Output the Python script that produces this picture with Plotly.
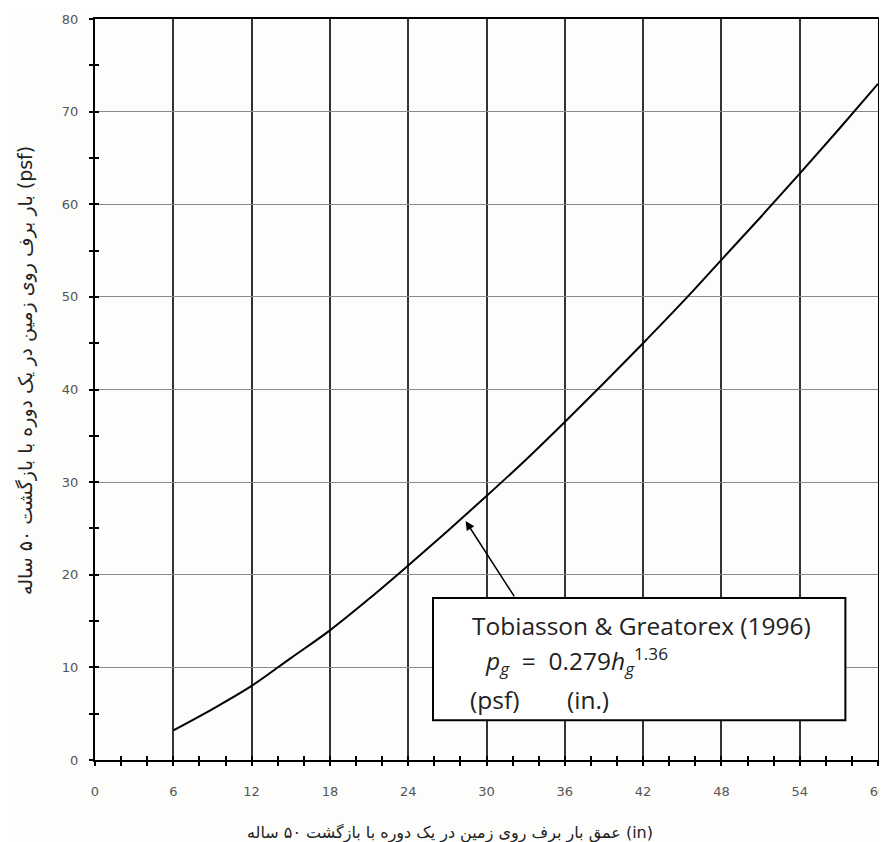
import plotly.graph_objects as go

# Data
depth_in = [6, 9, 12, 15, 18, 21, 24, 27, 30, 33, 36, 39, 42, 45, 48, 51, 54, 57, 60]
load_psf = [3.2, 5.5, 8.0, 11.0, 14.0, 17.4, 21.0, 24.7, 28.5, 32.4, 36.5, 40.7,
            45.0, 49.4, 54.0, 58.6, 63.3, 68.1, 73.0]

x_ticks = [0, 6, 12, 18, 24, 30, 36, 42, 48, 54, 60]
y_ticks = [0, 10, 20, 30, 40, 50, 60, 70, 80]

x_title = "عمق بار برف روی زمین در یک دوره با بازگشت ۵۰ ساله (in)"
y_title = "بار برف روی زمین در یک دوره با بازگشت ۵۰ ساله (psf)"
box_line1 = "Tobiasson & Greatorex (1996)"
box_line2 = "<i>p<sub>g</sub></i>  =  0.279<i>h<sub>g</sub></i><sup>1.36</sup>"
box_psf = "(psf)"
box_in = "(in.)"

fig = go.Figure()
fig.add_trace(go.Scatter(x=depth_in, y=load_psf, mode="lines",
                         line=dict(color="black", width=2, shape="spline"),
                         showlegend=False, hoverinfo="skip"))
# invisible trace on overlay axes for crossing ticks
fig.add_trace(go.Scatter(x=[0], y=[0], xaxis="x2", yaxis="y2", mode="lines",
                         line=dict(width=0), showlegend=False, hoverinfo="skip"))

tickfont = dict(family="DejaVu Sans", size=13, color="#555")
fig.update_layout(
    width=879, height=834,
    margin=dict(l=87, r=9, t=11, b=82, autoexpand=False),
    paper_bgcolor="#fdfdfb", plot_bgcolor="#fdfdfb",
    xaxis=dict(range=[0, 60], tickvals=x_ticks, showgrid=True, gridcolor="#333",
               gridwidth=1.6, zeroline=False, showline=True, linecolor="black",
               linewidth=2, mirror=True, ticks="outside", ticklen=4, tickwidth=2,
               tickcolor="black", tickfont=tickfont, ticklabelstandoff=14,
               automargin=False,
               minor=dict(dtick=2, ticks="outside", ticklen=4, tickwidth=2,
                          tickcolor="black", showgrid=False)),
    yaxis=dict(range=[0, 80], tickvals=y_ticks, showgrid=True, gridcolor="#8a8a8a",
               gridwidth=1.2, zeroline=False, showline=True, linecolor="black",
               linewidth=2, mirror=True, ticks="outside", ticklen=4, tickwidth=2,
               tickcolor="black", tickfont=tickfont, ticklabelstandoff=8,
               automargin=False,
               minor=dict(dtick=5, ticks="outside", ticklen=4, tickwidth=2,
                          tickcolor="black", showgrid=False)),
    xaxis2=dict(range=[0, 60], overlaying="x", showgrid=False, showticklabels=False,
                zeroline=False, tickvals=x_ticks, ticks="inside", ticklen=4, tickwidth=2,
                tickcolor="black", automargin=False,
                minor=dict(dtick=2, ticks="inside", ticklen=4, tickwidth=2,
                           tickcolor="black")),
    yaxis2=dict(range=[0, 80], overlaying="y", showgrid=False, showticklabels=False,
                zeroline=False, tickvals=y_ticks, ticks="inside", ticklen=4, tickwidth=2,
                tickcolor="black", automargin=False,
                minor=dict(dtick=5, ticks="inside", ticklen=4, tickwidth=2,
                           tickcolor="black")),
)

fig.add_shape(type="rect", x0=25.9, x1=57.5, y0=4.3, y1=17.5, xref="x", yref="y",
              line=dict(color="black", width=2), fillcolor="white", layer="above")

boxfont = dict(family="Open Sans", size=24.5, color="#222")
fig.add_annotation(x=28.7, y=14.5, xref="x", yref="y", text=box_line1, showarrow=False,
                   xanchor="left", yanchor="middle", font=boxfont)
fig.add_annotation(x=29.7, y=10.7, xref="x", yref="y", text=box_line2, showarrow=False,
                   xanchor="left", yanchor="middle", font=boxfont)
fig.add_annotation(x=28.55, y=6.5, xref="x", yref="y", text=box_psf, showarrow=False,
                   xanchor="left", yanchor="middle", font=boxfont)
fig.add_annotation(x=36.0, y=6.5, xref="x", yref="y", text=box_in, showarrow=False,
                   xanchor="left", yanchor="middle", font=boxfont)

# arrow
fig.add_annotation(x=28.4, y=25.8, xref="x", yref="y", ax=32.2, ay=17.5,
                   axref="x", ayref="y", text="", showarrow=True, arrowhead=2,
                   arrowsize=1.2, arrowwidth=1.5, arrowcolor="black")

fig.add_annotation(x=(450 - 95) / 783, y=-(833 - 760) / 741, xref="paper", yref="paper",
                   text=x_title, showarrow=False,
                   font=dict(family="DejaVu Sans", size=16, color="#222"),
                   xanchor="center", yanchor="middle")
fig.add_annotation(x=-(95 - 25) / 783, y=(760 - 371) / 741, xref="paper", yref="paper",
                   text=y_title, showarrow=False, textangle=-90,
                   font=dict(family="DejaVu Sans", size=19, color="#222"),
                   xanchor="center", yanchor="middle")

fig.write_html("out.html")
